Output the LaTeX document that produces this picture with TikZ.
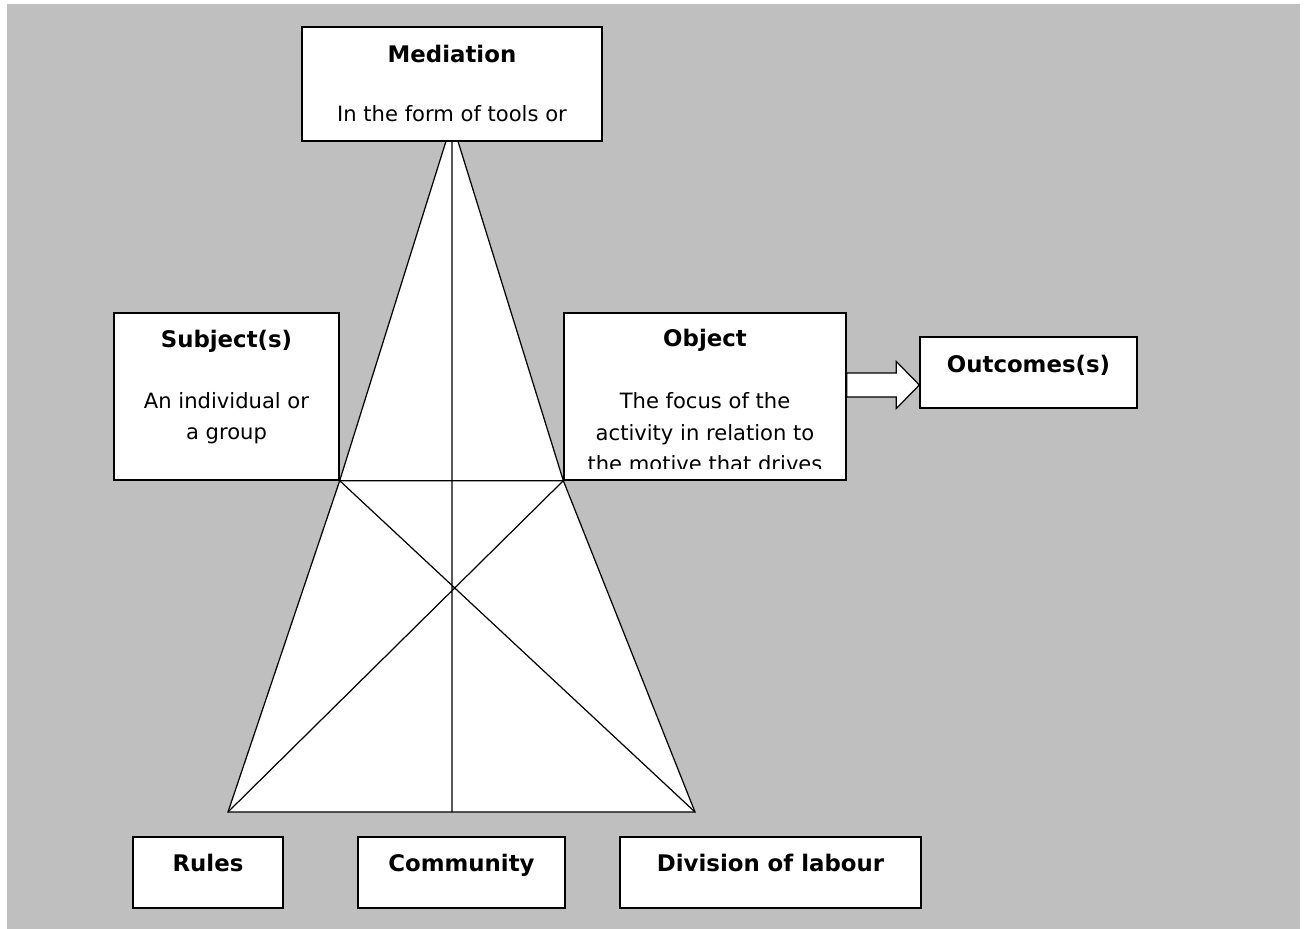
\documentclass[tikz,border=0pt]{standalone}
\usepackage{fontspec}
\setmainfont{DejaVu Sans}
\usepackage{xcolor}
\usepackage{tikz}
\usetikzlibrary{positioning, calc}
\definecolor{bggray}{HTML}{BFBFBF}

\begin{document}
\begin{tikzpicture}[x=0.02cm, y=-0.02cm,
	box/.style={draw, line width=0.8pt, fill=white, inner sep=0pt},
	head/.style={font=\fontsize{13}{15}\selectfont\bfseries, anchor=base, inner sep=0pt},
	body/.style={font=\fontsize{12}{14}\selectfont, anchor=base, inner sep=0pt},
	tri/.style={line width=0.7pt, line join=miter}]
			\useasboundingbox (0,0) rectangle (1306,929);
			\fill[bggray] (7,4) rectangle (1300,929);
			
			\node[box, minimum width=4.5cm, minimum height=3.34cm](sub) at (226.5,396.5) {};
			\node[box, minimum width=5.64cm, minimum height=3.34cm](obj) at (705,396.5) {};
			\node[box, minimum width=4.34cm, minimum height=1.42cm](out) at (1028.5,372.5) {};
			
			%% the triangle, drawn under the mediation box
			\coordinate (apex) at (452,122);
			\coordinate (bl) at (228,812);
			\coordinate (br) at (695,812);
			\filldraw[tri, fill=white] (apex) -- (sub.south east) -- (obj.south west) -- cycle;
			\filldraw[tri, fill=white] (sub.south east) -- (obj.south west) -- (br) -- (bl) -- cycle;
			\draw[tri] (sub.south east) -- (br) (obj.south west) -- (bl) (apex) -- (apex |- bl);
			
			\node[box, minimum width=6cm, minimum height=2.28cm](med) at (452,84) {};
			\node[box, minimum width=3cm, minimum height=1.42cm](rul) at (208,872.5) {};
			\node[box, minimum width=4.14cm, minimum height=1.42cm](com) at (461.5,872.5) {};
			\node[box, minimum width=6.02cm, minimum height=1.42cm](div) at (770.5,872.5) {};
			
			%% block arrow object -> outcomes
			\coordinate (tip) at ($(out.west)+(0,12.5)$);
			\draw[tri, fill=white] (tip) -- ($(tip)+(-23,-23.5)$) -- ($(tip)+(-23,-12)$) -- ($(obj.east|-tip)+(0,-12)$)
				-- ($(obj.east|-tip)+(0,12)$) -- ($(tip)+(-23,12)$) -- ($(tip)+(-23,23.5)$) -- cycle;
			\draw[line width=0.8pt] (obj.north east) -- (obj.south east);
			
			\node[head](medh) at ($(med.north)+(0,36)$) {Mediation};
			\node[head](subh) at ($(sub.north)+(0,35)$) {Subject(s)};
			\node[head](objh) at ($(obj.north)+(0,34)$) {Object};
			\node[head](outh) at ($(out.north)+(0,36)$) {Outcomes(s)};
			\node[head](rulh) at ($(rul.north)+(0,35)$) {Rules};
			\node[head](comh) at ($(com.north)+(0,35)$) {Community};
			\node[head](divh) at ($(div.north)+(0,35)$) {Division of labour};
			
			\node[body](medt) at ($(med.north)+(0,95)$) {In the form of tools or};
			\foreach \t [count=\i] in {An individual or, a group}
				\node[body](subt\i) at ($(sub.north)+(0,65+31*\i)$) {\t};
			\begin{scope}
				\clip (obj.north west) rectangle ($(obj.south east)+(0,-12)$);
				\foreach \t [count=\i] in {The focus of the, activity in relation to, the motive that drives}
					\node[body](objt\i) at ($(obj.north)+(0,65+31.5*\i)$) {\t};
			\end{scope}
			
			\end{tikzpicture}
\end{document}
